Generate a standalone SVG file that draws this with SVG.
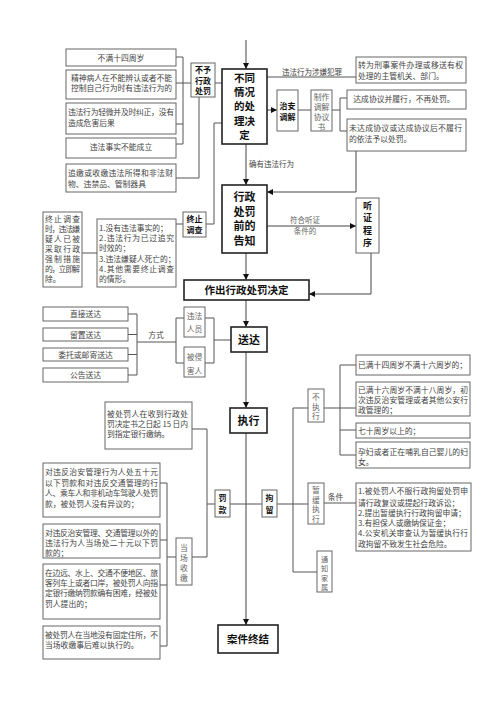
<svg xmlns="http://www.w3.org/2000/svg" width="500" height="708" viewBox="0 0 500 708">
<defs>
<marker id="a" viewBox="0 0 8 8" refX="8" refY="4" markerWidth="6" markerHeight="6" orient="auto" markerUnits="userSpaceOnUse"><path d="M0,0 L8,4 L0,8 z" fill="#111"/></marker>
<style>
.b{fill:#fff;stroke:#666;stroke-width:1}
.m{fill:#fff;stroke:#222;stroke-width:1.6}
.t{font-family:"Noto Sans CJK SC","Noto Sans",sans-serif;font-size:7.8px;fill:#444}
.g{font-family:"Noto Sans CJK SC","Noto Sans",sans-serif;font-size:7.8px;fill:#666}
.s{font-family:"Noto Sans CJK SC","Noto Sans",sans-serif;font-size:8px;font-weight:bold;fill:#111}
.h{font-family:"Noto Sans CJK SC","Noto Sans",sans-serif;font-size:11px;font-weight:bold;fill:#111}
.k{font-family:"Noto Sans CJK SC","Noto Sans",sans-serif;font-size:10.5px;font-weight:bold;fill:#111}
.c{fill:none;stroke:#555;stroke-width:1}
.ar{fill:none;stroke:#444;stroke-width:1;marker-end:url(#a)}
</style>
</defs>
<rect width="500" height="708" fill="#fff"/>

<g id="connectors">
<path class="ar" d="M246,40 V69"/>
<path class="c" d="M176,57 H183 M176,83 H191 M176,124 H183 M176,144 H183 M183,57 V144 M215,83 H222"/>
<path class="c" d="M176,178 H199 V97"/>
<path class="c" d="M222,123 H214 V224 H206 M176,224 H183 M82,253 H97"/>
<path class="c" d="M267,77 H356"/>
<path class="ar" d="M267,110 H277"/>
<path class="c" d="M298,110 H311 M332,110 H340 M347,98 H340 V131 H347"/>
<path class="ar" d="M356,151 V192 H267"/>
<path class="ar" d="M246,144 V185"/>
<path class="ar" d="M267,226 H356"/>
<path class="ar" d="M371,253 V294 H309"/>
<path class="ar" d="M246,253 V280"/>
<path class="ar" d="M246,300 V327"/>
<path class="c" d="M128,314 H137 M128,334.5 H137 M128,354.5 H137 M128,375 H137 M137,314 V375 M137,342 H176 M176,318 V363 M176,318 H184 M176,363 H184 M205,318 H214 M205,363 H214 M214,318 V363 M214,340 H231"/>
<path class="ar" d="M246,352 V408"/>
<path class="ar" d="M246,433 V625"/>
<path class="c" d="M192,429 H207 V557 H192 M207,504 H215 M230,504 H262 M277,504 H308 M293,408 V572 H317 M293,408 H308"/>
<path class="c" d="M324,408 H356 M340,365 V455 M340,365 H356 M340,430 H356 M340,455 H356"/>
<path class="c" d="M324,503 H356"/>
<path class="c" d="M160,483 H167 M160,540 H167 M160,585 H167 M160,646 H167 M167,483 V646 M167,557 H176"/>
<text class="t" x="312" y="74.5" text-anchor="middle" style="font-size:7.5px">违法行为涉嫌犯罪</text>
<text class="t" x="249" y="167" style="font-size:7.5px">确有违法行为</text>
<text class="g" text-anchor="middle" style="font-size:7.5px"><tspan x="305" y="223">符合听证</tspan><tspan x="305" y="234">条件的</tspan></text>
<text class="t" x="156" y="338" text-anchor="middle">方式</text>
<text class="t" x="335.5" y="499.5" text-anchor="middle">条件</text>
</g>

<g id="n-bumansisi"><rect class="b" x="66" y="49" width="110" height="17"/><text class="t" x="121" y="61" text-anchor="middle">不满十四周岁</text></g>
<g id="n-jingshenbing"><rect class="b" x="66" y="70" width="110" height="29"/><text class="t"><tspan x="71" y="81" textLength="101" lengthAdjust="spacing">精神病人在不能辨认或者不能</tspan><tspan x="71" y="91" textLength="101" lengthAdjust="spacing">控制自己行为时有违法行为的</tspan></text></g>
<g id="n-qingwei"><rect class="b" x="66" y="103" width="110" height="31"/><text class="t"><tspan x="68" y="115" textLength="106" lengthAdjust="spacing">违法行为轻微并及时纠正，没有</tspan><tspan x="68" y="125.5">造成危害后果</tspan></text></g>
<g id="n-bunengchengli"><rect class="b" x="66" y="138" width="110" height="20"/><text class="t" x="121" y="149.5" text-anchor="middle">违法事实不能成立</text></g>
<g id="n-zhuijiao"><rect class="b" x="66" y="164" width="110" height="28"/><text class="t"><tspan x="68" y="176" textLength="105" lengthAdjust="spacing">追缴或收缴违法所得和非法财</tspan><tspan x="68" y="186.5">物、违禁品、管制器具</tspan></text></g>
<g id="n-buyu"><rect class="b" x="191" y="63" width="24" height="34"/><text class="s" text-anchor="middle"><tspan x="203" y="72.5">不予</tspan><tspan x="203" y="83.5">行政</tspan><tspan x="203" y="94">处罚</tspan></text></g>

<g id="n-butong"><rect class="m" x="222" y="69" width="45" height="75"/>
<text class="h" text-anchor="middle" style="font-size:10.5px"><tspan x="244.5" y="81.7">不同</tspan><tspan x="244.5" y="96">情况</tspan><tspan x="244.5" y="110.3">的处</tspan><tspan x="244.5" y="124.6">理决</tspan><tspan x="244.5" y="138.9">定</tspan></text></g>

<g id="n-zhuanwei"><rect class="b" x="356" y="57" width="110" height="26"/><text class="t"><tspan x="358" y="68" textLength="105" lengthAdjust="spacing">转为刑事案件办理或移送有权</tspan><tspan x="358" y="78.5">处理的主管机关、部门。</tspan></text></g>
<g id="n-zhian"><rect class="b" x="277" y="90" width="21" height="41"/><text class="s" text-anchor="middle"><tspan x="287.5" y="109">治安</tspan><tspan x="287.5" y="119.5">调解</tspan></text></g>
<g id="n-zhizuo"><rect class="b" x="311" y="90" width="21" height="41"/><text class="g" text-anchor="middle"><tspan x="321.5" y="100">制作</tspan><tspan x="321.5" y="110">调解</tspan><tspan x="321.5" y="120">协议</tspan><tspan x="321.5" y="130">书</tspan></text></g>
<g id="n-dacheng"><rect class="b" x="347" y="90" width="119" height="19"/><text class="t" x="404" y="102.3" text-anchor="middle">达成协议并履行，不再处罚。</text></g>
<g id="n-weidacheng"><rect class="b" x="347" y="119" width="119" height="32"/><text class="t"><tspan x="349" y="131" textLength="113" lengthAdjust="spacing">未达成协议或达成协议后不履行</tspan><tspan x="349" y="141.5">的依法予以处罚。</tspan></text></g>

<g id="n-gaozhi"><rect class="m" x="222" y="185" width="45" height="68"/>
<text class="h" text-anchor="middle"><tspan x="244.5" y="201.3">行政</tspan><tspan x="244.5" y="215.8">处罚</tspan><tspan x="244.5" y="230.3">前的</tspan><tspan x="244.5" y="244.8">告知</tspan></text></g>

<g id="n-zhongzhi"><rect class="b" x="183" y="212" width="23" height="25"/><text class="s" text-anchor="middle"><tspan x="194.5" y="222">终止</tspan><tspan x="194.5" y="233">调查</tspan></text></g>
<g id="n-qingxing"><rect class="b" x="97" y="219" width="79" height="68"/>
<text class="t"><tspan x="99" y="231">1.没有违法事实的；</tspan><tspan x="99" y="241" textLength="75" lengthAdjust="spacing">2.违法行为已过追究</tspan><tspan x="99" y="251">时效的；</tspan><tspan x="99" y="262">3.违法嫌疑人死亡的；</tspan><tspan x="99" y="272" textLength="75" lengthAdjust="spacing">4.其他需要终止调查</tspan><tspan x="99" y="282">的情形。</tspan></text></g>
<g id="n-jiechu"><rect class="b" x="43" y="212" width="39" height="75"/>
<text class="t"><tspan x="45" y="222" textLength="35" lengthAdjust="spacing">终止调查</tspan><tspan x="45" y="232" textLength="35" lengthAdjust="spacing">时，违法嫌</tspan><tspan x="45" y="242" textLength="35" lengthAdjust="spacing">疑人已被</tspan><tspan x="45" y="252" textLength="35" lengthAdjust="spacing">采取行政</tspan><tspan x="45" y="262" textLength="35" lengthAdjust="spacing">强制措施</tspan><tspan x="45" y="272" textLength="35" lengthAdjust="spacing">的，立即解</tspan><tspan x="45" y="282">除。</tspan></text></g>

<g id="n-tingzheng"><rect class="b" x="356" y="198" width="23" height="55"/>
<text class="s" text-anchor="middle" style="font-size:9px"><tspan x="367.5" y="208.5">听</tspan><tspan x="367.5" y="221">证</tspan><tspan x="367.5" y="233.5">程</tspan><tspan x="367.5" y="246">序</tspan></text></g>

<g id="n-zuochu"><rect class="m" x="184" y="280" width="125" height="20"/><text class="k" x="246.5" y="294" text-anchor="middle">作出行政处罚决定</text></g>

<g id="n-zhijie"><rect class="b" x="43" y="307" width="85" height="14"/><text class="t" x="85.5" y="317" text-anchor="middle">直接送达</text></g>
<g id="n-liuzhi"><rect class="b" x="43" y="328" width="85" height="13"/><text class="t" x="85.5" y="337.5" text-anchor="middle">留置送达</text></g>
<g id="n-weituo"><rect class="b" x="43" y="348" width="85" height="13"/><text class="t" x="85.5" y="357.5" text-anchor="middle">委托或邮寄送达</text></g>
<g id="n-gonggao"><rect class="b" x="43" y="368" width="85" height="14"/><text class="t" x="85.5" y="378" text-anchor="middle">公告送达</text></g>
<g id="n-weifarenyuan"><rect class="b" x="184" y="307" width="21" height="30"/><text class="g" text-anchor="middle"><tspan x="194.5" y="318.5">违法</tspan><tspan x="194.5" y="332">人员</tspan></text></g>
<g id="n-beiqinhai"><rect class="b" x="184" y="347" width="21" height="30"/><text class="g" text-anchor="middle"><tspan x="194.5" y="359.5">被侵</tspan><tspan x="194.5" y="374">害人</tspan></text></g>
<g id="n-songda"><rect class="m" x="231" y="327" width="36" height="25"/><text class="k" x="249" y="343.5" text-anchor="middle" style="font-size:11px">送达</text></g>

<g id="n-zhixing"><rect class="m" x="230" y="408" width="37" height="25"/><text class="k" x="248.5" y="424.5" text-anchor="middle" style="font-size:11px">执行</text></g>
<g id="n-jiaona"><rect class="b" x="105" y="402" width="87" height="47"/>
<text class="t"><tspan x="107" y="417" textLength="81" lengthAdjust="spacing">被处罚人在收到行政处</tspan><tspan x="107" y="427" textLength="81" lengthAdjust="spacing">罚决定书之日起 15 日内</tspan><tspan x="107" y="437">到指定银行缴纳。</tspan></text></g>
<g id="n-fakuan"><rect class="b" x="215" y="490" width="15" height="27"/><text class="s" text-anchor="middle"><tspan x="222.5" y="501">罚</tspan><tspan x="222.5" y="513">款</tspan></text></g>
<g id="n-juliu"><rect class="b" x="262" y="490" width="15" height="27"/><text class="s" text-anchor="middle"><tspan x="269.5" y="501">拘</tspan><tspan x="269.5" y="513">留</tspan></text></g>

<g id="n-buzhixing"><rect class="b" x="308" y="389" width="16" height="33"/><text class="g" text-anchor="middle"><tspan x="316" y="400">不</tspan><tspan x="316" y="409.5">执</tspan><tspan x="316" y="419">行</tspan></text></g>
<g id="n-shisi"><rect class="b" x="356" y="355" width="114" height="20"/><text class="t" x="358" y="368">已满十四周岁不满十六周岁的；</text></g>
<g id="n-shiliu"><rect class="b" x="356" y="382" width="114" height="34"/>
<text class="t"><tspan x="358" y="392.5" textLength="110" lengthAdjust="spacing">已满十六周岁不满十八周岁，初</tspan><tspan x="358" y="403" textLength="110" lengthAdjust="spacing">次违反治安管理或者其他公安行</tspan><tspan x="358" y="413">政管理的；</tspan></text></g>
<g id="n-qishi"><rect class="b" x="356" y="423" width="114" height="15"/><text class="t" x="358" y="433.5">七十周岁以上的；</text></g>
<g id="n-yunfu"><rect class="b" x="356" y="442" width="114" height="26"/><text class="t"><tspan x="358" y="455" textLength="110" lengthAdjust="spacing">孕妇或者正在哺乳自己婴儿的妇</tspan><tspan x="358" y="465">女。</tspan></text></g>

<g id="n-zanhuan"><rect class="b" x="308" y="483" width="16" height="41"/><text class="g" text-anchor="middle"><tspan x="316" y="493">暂</tspan><tspan x="316" y="502.5">缓</tspan><tspan x="316" y="512">执</tspan><tspan x="316" y="521.5">行</tspan></text></g>
<g id="n-tiaojian"><rect class="b" x="356" y="483" width="115" height="68"/>
<text class="t"><tspan x="358" y="494" textLength="110" lengthAdjust="spacing">1.被处罚人不服行政拘留处罚申</tspan><tspan x="358" y="505.5">请行政复议或提起行政诉讼；</tspan><tspan x="358" y="516">2.提出暂缓执行行政拘留申请；</tspan><tspan x="358" y="526">3.有担保人或缴纳保证金；</tspan><tspan x="358" y="536" textLength="110" lengthAdjust="spacing">4.公安机关审查认为暂缓执行行</tspan><tspan x="358" y="546.5">政拘留不致发生社会危险。</tspan></text></g>
<g id="n-tongzhi"><rect class="b" x="317" y="551" width="15" height="41"/><text class="g" text-anchor="middle" style="font-size:7.2px"><tspan x="324.5" y="561.5">通</tspan><tspan x="324.5" y="571">知</tspan><tspan x="324.5" y="580.5">家</tspan><tspan x="324.5" y="590">属</tspan></text></g>

<g id="n-wushi"><rect class="b" x="43" y="463" width="117" height="54"/>
<text class="t"><tspan x="45" y="475" textLength="113" lengthAdjust="spacing">对违反治安管理行为人处五十元</tspan><tspan x="45" y="485.5" textLength="113" lengthAdjust="spacing">以下罚款和对违反交通管理的行</tspan><tspan x="45" y="496" textLength="113" lengthAdjust="spacing">人、乘车人和非机动车驾驶人处罚</tspan><tspan x="45" y="506.5">款，被处罚人没有异议的；</tspan></text></g>
<g id="n-ershi"><rect class="b" x="43" y="524" width="117" height="34"/>
<text class="t"><tspan x="45" y="535.5" textLength="113" lengthAdjust="spacing">对违反治安管理、交通管理以外的</tspan><tspan x="45" y="546" textLength="113" lengthAdjust="spacing">违法行为人当场处二十元以下罚</tspan><tspan x="45" y="555.5">款的；</tspan></text></g>
<g id="n-bianyuan"><rect class="b" x="43" y="564" width="117" height="55"/>
<text class="t"><tspan x="45" y="576" textLength="113" lengthAdjust="spacing">在边远、水上、交通不便地区、旅</tspan><tspan x="45" y="586" textLength="113" lengthAdjust="spacing">客列车上或者口岸，被处罚人向指</tspan><tspan x="45" y="596" textLength="113" lengthAdjust="spacing">定银行缴纳罚款确有困难，经被处</tspan><tspan x="45" y="607">罚人提出的；</tspan></text></g>
<g id="n-zhusuo"><rect class="b" x="43" y="626" width="117" height="33"/>
<text class="t"><tspan x="45" y="638" textLength="113" lengthAdjust="spacing">被处罚人在当地没有固定住所，不</tspan><tspan x="45" y="648">当场收缴事后难以执行的。</tspan></text></g>
<g id="n-dangchang"><rect class="b" x="176" y="538" width="16" height="47"/><text class="g" text-anchor="middle"><tspan x="184" y="551">当</tspan><tspan x="184" y="561">场</tspan><tspan x="184" y="571">收</tspan><tspan x="184" y="581">缴</tspan></text></g>

<g id="n-zhongjie"><rect class="m" x="218" y="625" width="60" height="28"/><text class="k" x="248" y="643" text-anchor="middle">案件终结</text></g>
</svg>
